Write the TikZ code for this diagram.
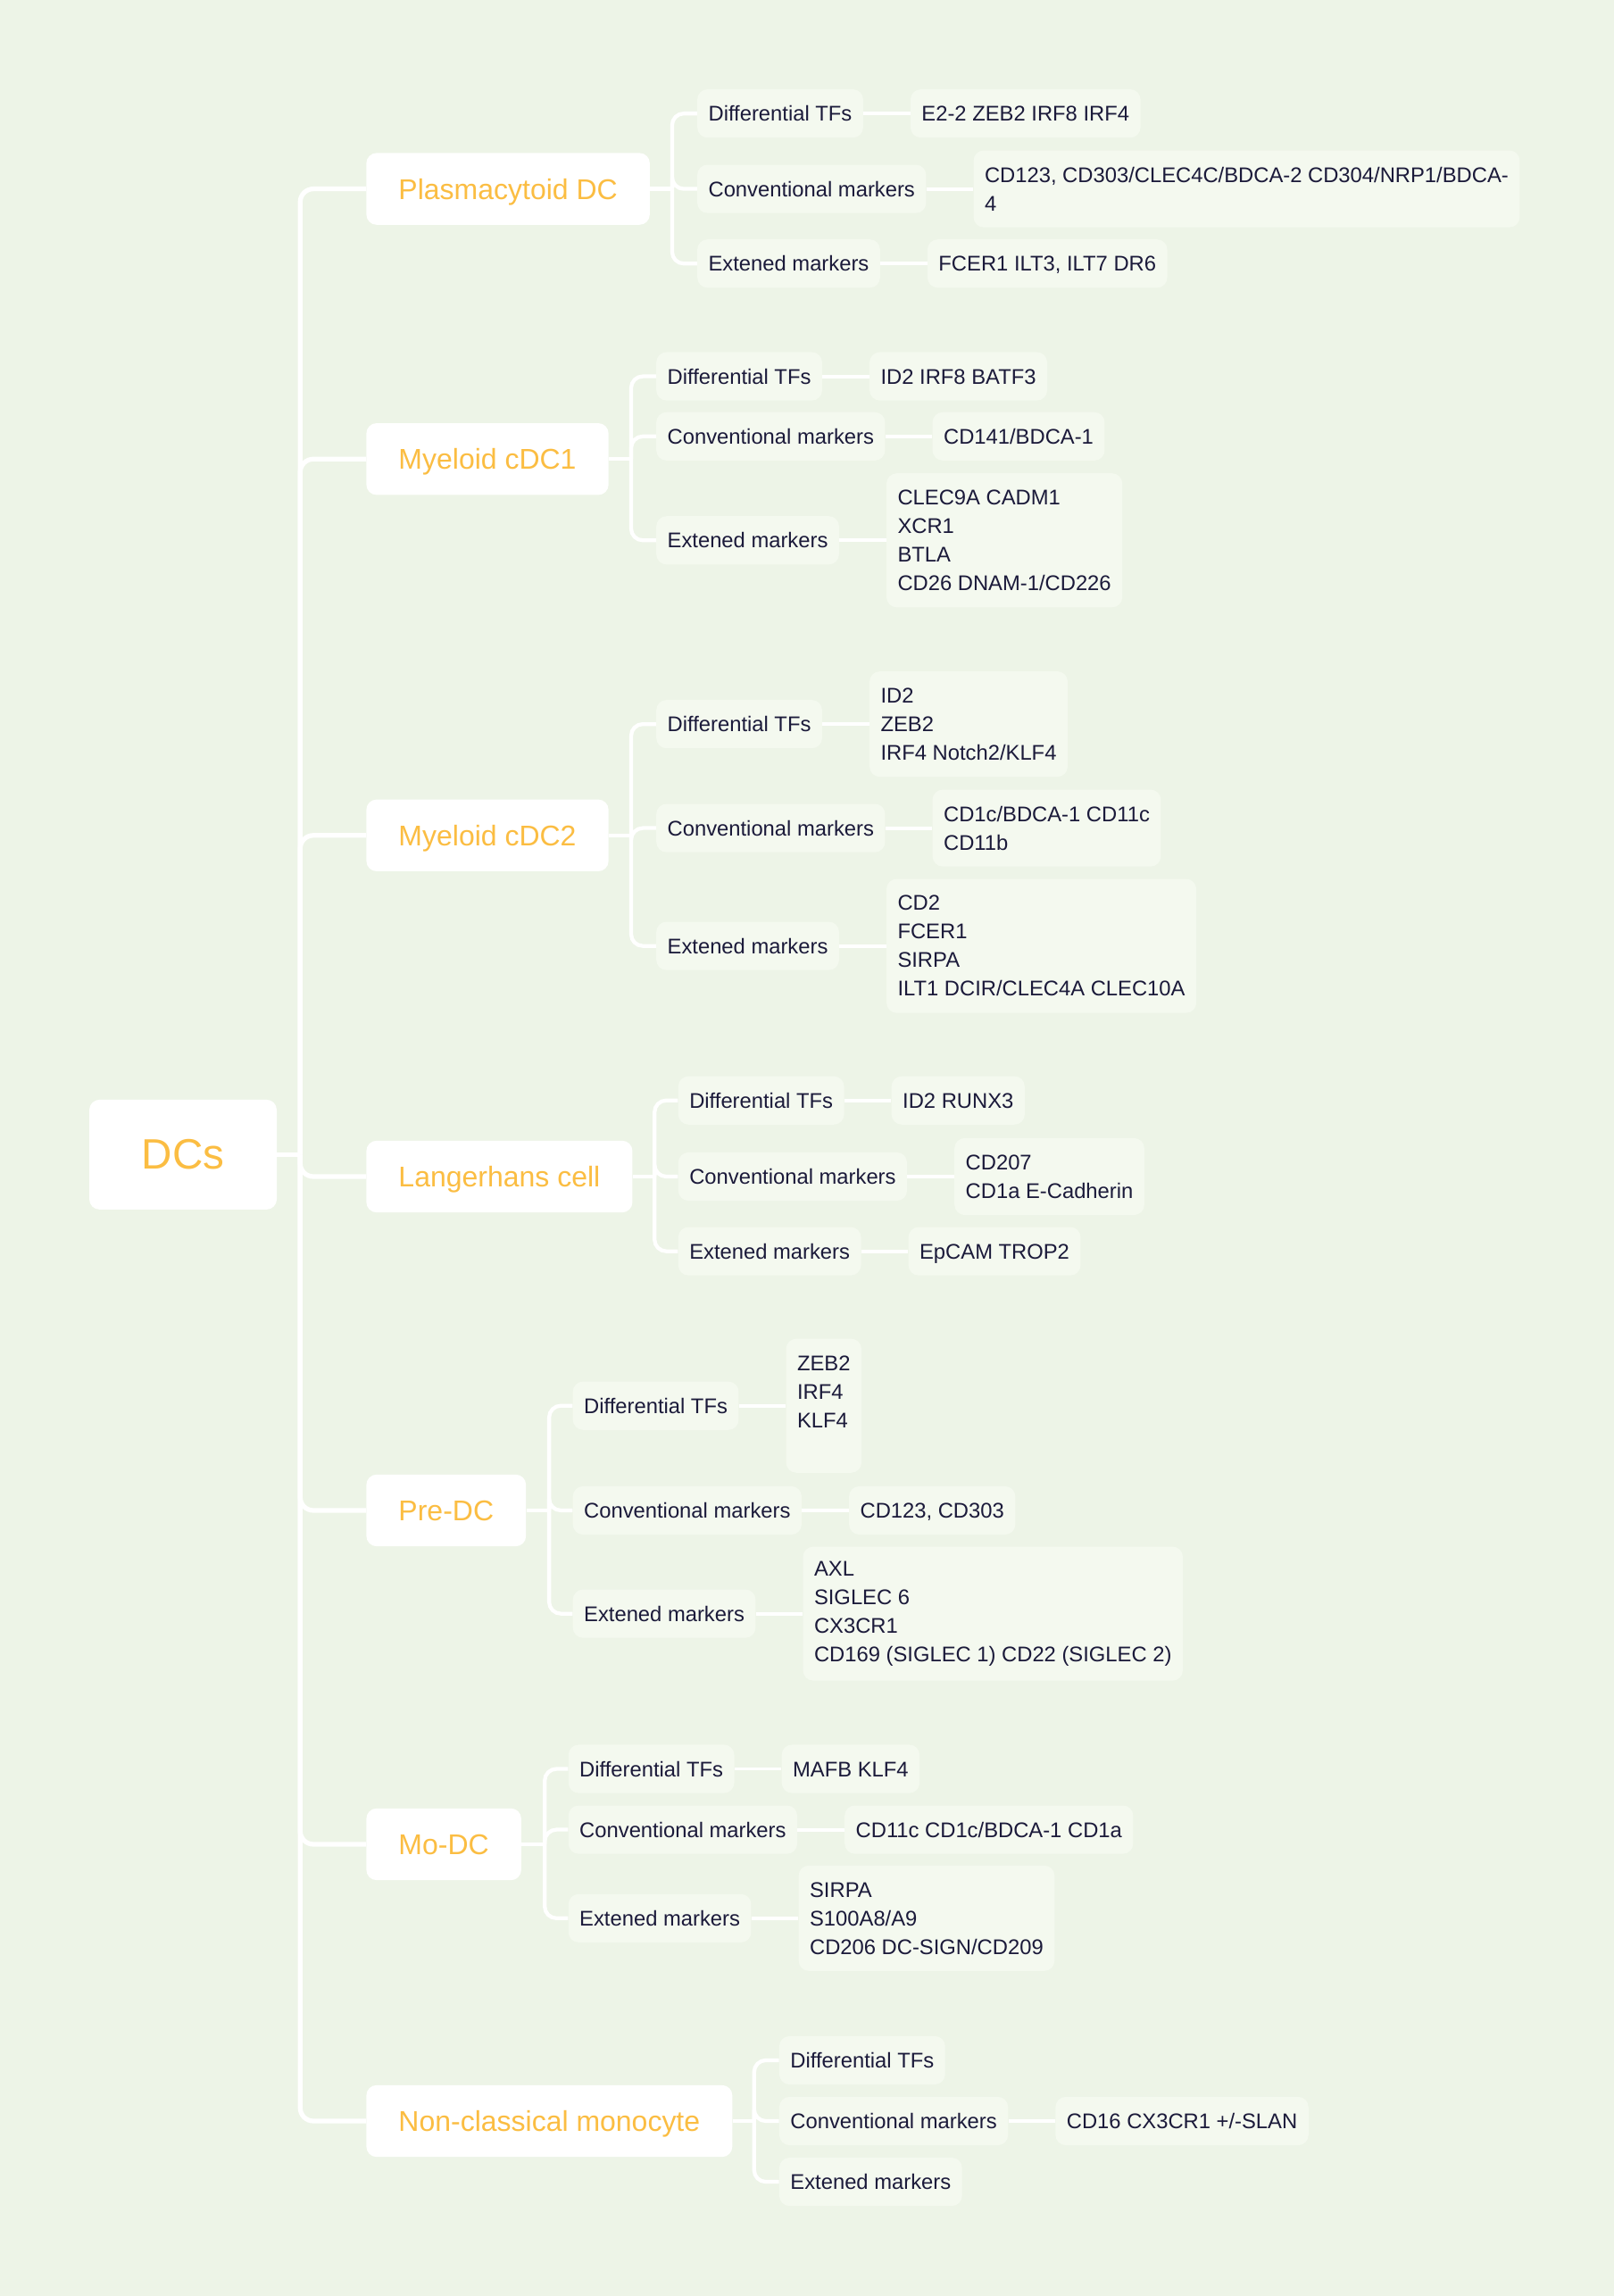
\documentclass[tikz,border=0pt]{standalone}
\usepackage{fontspec}
\setmainfont{Liberation Sans}
\usetikzlibrary{positioning}

\definecolor{bgcol}{HTML}{EDF4E7}
\definecolor{leafcol}{HTML}{F4F9EF}
\definecolor{titlecol}{HTML}{FBBD42}
\definecolor{inkcol}{HTML}{1B1A3A}

\tikzset{
  rootbox/.style={fill=white, rounded corners=7pt, text=titlecol,
    font=\fontsize{29}{34}\selectfont, minimum width=128pt, minimum height=75pt, inner sep=0pt},
  catbox/.style={fill=white, rounded corners=7pt, text=titlecol, anchor=west,
    font=\fontsize{19.5}{24}\selectfont, minimum height=49pt, inner xsep=22pt, inner ysep=0pt,
    text height=18pt, text depth=4pt},
  attrbox/.style={fill=leafcol, rounded corners=7pt, text=inkcol, anchor=west,
    font=\fontsize{14.5}{19.5}\selectfont, minimum height=33pt, inner xsep=7.6pt, inner ysep=0pt,
    text height=10.5pt, text depth=0pt},
  valbox/.style={attrbox, align=left},
  multiline/.style={text height={}, text depth={}},
  lines2/.style={multiline, minimum height=52.5pt},
  lines3/.style={multiline, minimum height=72pt},
  lines4/.style={multiline, minimum height=91.5pt},
  trunkline/.style={draw=white, line width=3.2pt, rounded corners=9pt},
  branchline/.style={draw=white, line width=2.6pt, rounded corners=8pt},
  twigline/.style={draw=white, line width=2.4pt},
}

\begin{document}
\begin{tikzpicture}[x=1pt,y=-1pt]
  % canvas
  \fill[bgcol] (0,0) rectangle (1102.2,1568);
  \useasboundingbox (0,0) rectangle (1102.2,1568);

  % ---- root and categories ----
  \node[rootbox] (dcs) at (125,788.5) {DCs};

  \node[catbox] (pdc)  at (250,129)    {Plasmacytoid DC};
  \node[catbox] (cdc1) at (250,313.5)  {Myeloid cDC1};
  \node[catbox] (cdc2) at (250,570.5)  {Myeloid cDC2};
  \node[catbox] (lc)   at (250,803.5)  {Langerhans cell};
  \node[catbox] (pre)  at (250,1031.5) {Pre-DC};
  \node[catbox] (mo)   at (250,1259.5) {Mo-DC};
  \node[catbox] (ncm)  at (250,1448.5) {Non-classical monocyte};

  \coordinate (j0) at (205,788.5);
  \draw[trunkline] (dcs.east) -- (j0);
  \foreach \c in {pdc,cdc1,cdc2,lc,pre,mo,ncm}
    \draw[trunkline] (j0) |- (\c.west);

  % ---- Plasmacytoid DC ----
  \node[attrbox] (pdcd) at (476,77.5) {Differential TFs};
  \node[attrbox] (pdcc) at (476,129)  {Conventional markers};
  \node[attrbox] (pdce) at (476,180)  {Extened markers};
  \node[valbox, right=32pt of pdcd] (pdcdv) {E2-2 ZEB2 IRF8 IRF4};
  \node[valbox, lines2, right=32pt of pdcc] (pdccv) {CD123, CD303/CLEC4C/BDCA-2 CD304/NRP1/BDCA-\\4};
  \node[valbox, right=32pt of pdce] (pdcev) {FCER1 ILT3, ILT7 DR6};
  \coordinate (jp) at (459,129);
  \draw[branchline] (pdc.east) -- (jp);
  \foreach \c in {pdcd,pdcc,pdce} \draw[branchline] (jp) |- (\c.west);
  \foreach \c in {pdcd,pdcc,pdce} \draw[twigline] (\c.east) -- (\c v.west);

  % ---- Myeloid cDC1 ----
  \node[attrbox] (c1d) at (448,257) {Differential TFs};
  \node[attrbox] (c1c) at (448,298) {Conventional markers};
  \node[attrbox] (c1e) at (448,369) {Extened markers};
  \node[valbox, right=32pt of c1d] (c1dv) {ID2 IRF8 BATF3};
  \node[valbox, right=32pt of c1c] (c1cv) {CD141/BDCA-1};
  \node[valbox, lines4, right=32pt of c1e] (c1ev) {CLEC9A CADM1\\XCR1\\BTLA\\CD26 DNAM-1/CD226};
  \coordinate (j1) at (431,313.5);
  \draw[branchline] (cdc1.east) -- (j1);
  \foreach \c in {c1d,c1c,c1e} \draw[branchline] (j1) |- (\c.west);
  \foreach \c in {c1d,c1c,c1e} \draw[twigline] (\c.east) -- (\c v.west);

  % ---- Myeloid cDC2 ----
  \node[attrbox] (c2d) at (448,494.5) {Differential TFs};
  \node[attrbox] (c2c) at (448,565.5) {Conventional markers};
  \node[attrbox] (c2e) at (448,646)   {Extened markers};
  \node[valbox, lines3, right=32pt of c2d] (c2dv) {ID2\\ZEB2\\IRF4 Notch2/KLF4};
  \node[valbox, lines2, right=32pt of c2c] (c2cv) {CD1c/BDCA-1 CD11c\\CD11b};
  \node[valbox, lines4, right=32pt of c2e] (c2ev) {CD2\\FCER1\\SIRPA\\ILT1 DCIR/CLEC4A CLEC10A};
  \coordinate (j2) at (431,570.5);
  \draw[branchline] (cdc2.east) -- (j2);
  \foreach \c in {c2d,c2c,c2e} \draw[branchline] (j2) |- (\c.west);
  \foreach \c in {c2d,c2c,c2e} \draw[twigline] (\c.east) -- (\c v.west);

  % ---- Langerhans cell ----
  \node[attrbox] (lcd) at (463,751.5) {Differential TFs};
  \node[attrbox] (lcc) at (463,803.5) {Conventional markers};
  \node[attrbox] (lce) at (463,854.5) {Extened markers};
  \node[valbox, right=32pt of lcd] (lcdv) {ID2 RUNX3};
  \node[valbox, lines2, right=32pt of lcc] (lccv) {CD207\\CD1a E-Cadherin};
  \node[valbox, right=32pt of lce] (lcev) {EpCAM TROP2};
  \coordinate (j3) at (447,803.5);
  \draw[branchline] (lc.east) -- (j3);
  \foreach \c in {lcd,lcc,lce} \draw[branchline] (j3) |- (\c.west);
  \foreach \c in {lcd,lcc,lce} \draw[twigline] (\c.east) -- (\c v.west);

  % ---- Pre-DC ----
  \node[attrbox] (prd) at (391,960)    {Differential TFs};
  \node[attrbox] (prc) at (391,1031.5) {Conventional markers};
  \node[attrbox] (pre2) at (391,1102)  {Extened markers};
  \node[valbox, lines4, right=32pt of prd] (prdv) {ZEB2\\IRF4\\KLF4\\\mbox{}};
  \node[valbox, right=32pt of prc] (prcv) {CD123, CD303};
  \node[valbox, lines4, right=32pt of pre2] (pre2v) {AXL\\SIGLEC 6\\CX3CR1\\CD169 (SIGLEC 1) CD22 (SIGLEC 2)};
  \coordinate (j4) at (375,1031.5);
  \draw[branchline] (pre.east) -- (j4);
  \foreach \c in {prd,prc,pre2} \draw[branchline] (j4) |- (\c.west);
  \foreach \c in {prd,prc,pre2} \draw[twigline] (\c.east) -- (\c v.west);

  % ---- Mo-DC ----
  \node[attrbox] (mod) at (388,1208)   {Differential TFs};
  \node[attrbox] (moc) at (388,1249.5) {Conventional markers};
  \node[attrbox] (moe) at (388,1310)   {Extened markers};
  \node[valbox, right=32pt of mod] (modv) {MAFB KLF4};
  \node[valbox, right=32pt of moc] (mocv) {CD11c CD1c/BDCA-1 CD1a};
  \node[valbox, lines3, right=32pt of moe] (moev) {SIRPA\\S100A8/A9\\CD206 DC-SIGN/CD209};
  \coordinate (j5) at (372,1259.5);
  \draw[branchline] (mo.east) -- (j5);
  \foreach \c in {mod,moc,moe} \draw[branchline] (j5) |- (\c.west);
  \foreach \c in {mod,moc,moe} \draw[twigline] (\c.east) -- (\c v.west);

  % ---- Non-classical monocyte ----
  \node[attrbox] (ncd) at (532,1407)   {Differential TFs};
  \node[attrbox] (ncc) at (532,1448.5) {Conventional markers};
  \node[attrbox] (nce) at (532,1490)   {Extened markers};
  \node[valbox, right=32pt of ncc] (nccv) {CD16 CX3CR1 +/-SLAN};
  \coordinate (j6) at (515,1448.5);
  \draw[branchline] (ncm.east) -- (j6);
  \foreach \c in {ncd,ncc,nce} \draw[branchline] (j6) |- (\c.west);
  \draw[twigline] (ncc.east) -- (nccv.west);
\end{tikzpicture}
\end{document}
